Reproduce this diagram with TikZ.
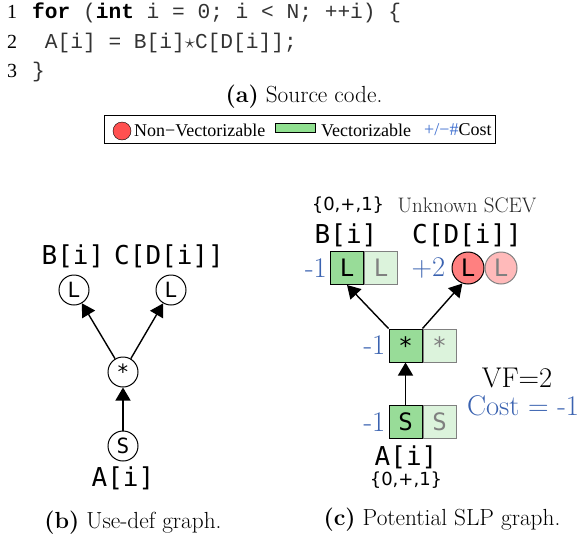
\documentclass[tikz,border=0pt]{standalone}
\usepackage{fontspec}
\usepackage{xcolor}
\usetikzlibrary{arrows.meta, positioning}
\newfontfamily\codefont{Liberation Mono}
\newfontfamily\linenofont{Liberation Serif}
\newfontfamily\legendfont{Liberation Serif}
\newfontfamily\varfont{DejaVu Sans Mono}
\newfontfamily\scevfont{DejaVu Sans}
\definecolor{vecgreen}{RGB}{152,220,152}
\definecolor{vecgreenlt}{RGB}{220,243,220}
\definecolor{nvred}{RGB}{255,128,128}
\definecolor{nvredlt}{RGB}{255,186,186}
\definecolor{costblue}{RGB}{58,98,176}
\definecolor{legred}{RGB}{255,80,80}
\definecolor{leggreen}{RGB}{144,224,144}
\definecolor{legblue}{RGB}{64,112,208}
\begin{document}
\begin{tikzpicture}[x=1pt,y=-1pt,
  codeline/.style={anchor=base west, inner sep=0pt, text=black!80, font=\codefont\fontsize{21.2}{21.2}\selectfont},
  lineno/.style={anchor=base west, inner sep=0pt, font=\linenofont\fontsize{20}{20}\selectfont},
  udnode/.style={draw, circle, line width=1pt, minimum size=30pt, inner sep=0pt, font=\varfont\fontsize{21}{21}\selectfont},
  vbox/.style={draw, line width=1pt, fill=vecgreen, minimum size=33pt, inner sep=0pt, font=\varfont\fontsize{24}{24}\selectfont},
  vboxlt/.style={vbox, draw=gray, fill=vecgreenlt, text=gray},
  nvcirc/.style={draw, circle, line width=1pt, fill=nvred, minimum size=32pt, inner sep=0pt, font=\varfont\fontsize{24}{24}\selectfont},
  nvcirclt/.style={nvcirc, draw=gray, fill=nvredlt, text=gray},
  varlabel/.style={inner sep=0pt, font=\varfont\fontsize{26}{26}\selectfont},
  scevlabel/.style={inner sep=0pt, font=\scevfont\fontsize{18}{18}\selectfont},
  costlabel/.style={inner sep=0pt, text=costblue, font=\fontsize{28.5}{28.5}\selectfont},
  legendtext/.style={anchor=west, inner sep=0pt, font=\legendfont\fontsize{18}{18}\selectfont},
  caption/.style={inner sep=0pt, font=\fontsize{23.3}{23.3}\selectfont},
  edge/.style={-{Triangle[length=13pt,width=15pt]}, line width=1.4pt}
]
\useasboundingbox (0,0) rectangle (580,538);

% Source code
\node[lineno] (n1) at (7,18) {1};
\node[lineno] (n2) at (7,48) {2};
\node[lineno] (n3) at (7,77) {3};
\node[codeline] (c1) at (32,18) {{\bfseries\color{black}for} ({\bfseries\color{black}int} i = 0; i < N; ++i) \{};
\node[codeline] (c2) at (32,48) {\ A[i] = B[i]$\star$C[D[i]];};
\node[codeline] (c3) at (32,77) {\}};
\node[caption] (capa) at (304,97) {\textbf{(a)} Source code.};

% Legend
\draw[line width=0.8pt] (104,115) rectangle (495,143);
\draw[fill=legred] (122,131) circle (9);
\node[legendtext] (lgnv) at (134,130) {Non−Vectorizable};
\draw[fill=leggreen] (275,123) rectangle (315,132);
\node[legendtext] (lgv) at (321,130) {Vectorizable};
\node[legendtext] (lgc) at (424,130) {{\color{legblue}+/−\#}Cost};

% Use-def graph
\node[udnode] (lb) at (74,290) {L};
\node[udnode] (lc) at (171,290) {L};
\node[udnode] (mul) at (123,372) {*};
\node[udnode] (st) at (123,446) {S};
\node[varlabel] (tb) at (73,256) {B[i]};
\node[varlabel] (tc) at (169,256) {C[D[i]]};
\node[varlabel] (ta) at (123,478) {A[i]};
\draw[edge] (mul) -- (lb);
\draw[edge] (mul) -- (lc);
\draw[edge] (st) -- (mul);
\node[caption] (capb) at (133,523) {\textbf{(b)} Use-def graph.};

% Potential SLP graph
\node[vbox] (lB) at (347,268) {L};
\node[vboxlt, right=0pt of lB] (lBlt) {L};
\node[nvcirc] (lC) at (468,268) {L};
\node[nvcirclt, right=0pt of lC] (lClt) {L};
\node[vbox] (mulv) at (405.5,345.5) {*};
\node[vboxlt, right=0pt of mulv] (mulvlt) {*};
\node[vbox] (stv) at (405.5,422) {S};
\node[vboxlt, right=0pt of stv] (stvlt) {S};

\node[costlabel, left=3pt of lB] (cB) {-1};
\node[costlabel, left=6pt of lC] (cC) {+2};
\node[costlabel, left=3pt of mulv] (cmul) {-1};
\node[costlabel, left=3pt of stv] (cst) {-1};

\node[scevlabel] (sB) at (348,205) {\{0,+,1\}};
\node[inner sep=0pt, text=black!85, font=\fontsize{21}{21}\selectfont] (sC) at (467,205) {Unknown SCEV};
\node[varlabel] (vB) at (346,235) {B[i]};
\node[varlabel] (vC) at (467,235) {C[D[i]]};
\node[varlabel] (vA) at (406,457) {A[i]};
\node[scevlabel] (sA) at (406,480) {\{0,+,1\}};

\draw[edge] (mulv.north west) -- (lB.south);
\draw[edge] (mulv.north east) -- (lC.250);
\draw[edge] (stv) -- (mulv);

\node[inner sep=0pt, font=\fontsize{28.5}{28.5}\selectfont] (vf) at (517,378) {VF=2};
\node[costlabel] (cost) at (523,406) {Cost = -1};
\node[caption] (capc) at (442,520) {\textbf{(c)} Potential SLP graph.};
\end{tikzpicture}
\end{document}
